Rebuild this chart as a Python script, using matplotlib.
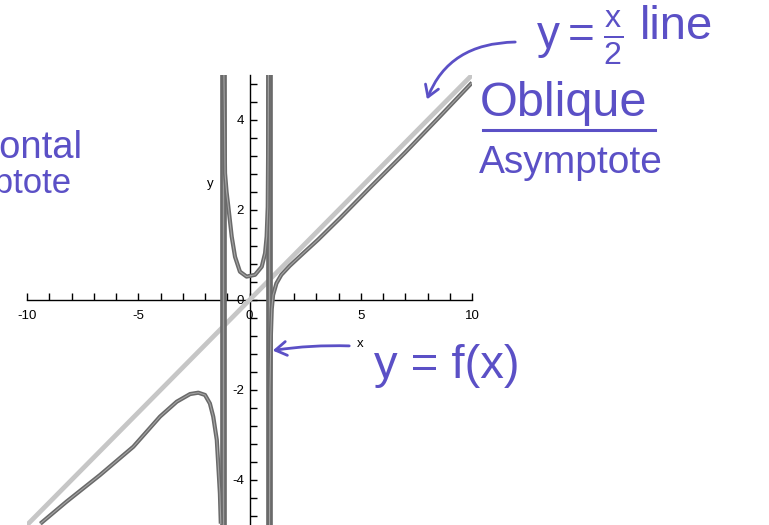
import matplotlib.pyplot as plt
from matplotlib.ticker import MultipleLocator

plt.rcParams['font.family'] = ['Liberation Sans', 'DejaVu Sans']
plt.rcParams['mathtext.fontset'] = 'custom'
plt.rcParams['mathtext.rm'] = 'Liberation Sans'

# oblique asymptote y = x/2
line_x = [-10, 10]
line_y = [-5, 5]

# y = f(x), three branches
left_x = [-9.40, -8.22, -6.72, -5.22, -4.02, -3.27, -2.67, -2.30, -2.00, -1.78, -1.63, -1.47, -1.40, -1.33, -1.29]
left_y = [-4.97, -4.48, -3.89, -3.26, -2.59, -2.26, -2.09, -2.06, -2.11, -2.30, -2.59, -3.11, -3.70, -4.30, -4.97]

mid_x = [-1.15, -1.12, -1.10, -1.03, -0.95, -0.80, -0.65, -0.43, -0.13, 0.25, 0.55, 0.70, 0.77, 0.82, 0.84, 0.85]
mid_y = [5.0, 3.8, 2.82, 2.40, 2.07, 1.41, 0.96, 0.63, 0.52, 0.56, 0.74, 1.04, 1.41, 2.07, 3.5, 5.0]

right_x = [0.90, 0.92, 0.96, 1.00, 1.06, 1.21, 1.43, 1.81, 2.33, 3.08, 4.07, 5.50, 7.00, 8.50, 10.0]
right_y = [-5.0, -2.0, -0.8, -0.2, 0.11, 0.37, 0.56, 0.76, 1.00, 1.34, 1.82, 2.54, 3.28, 4.05, 4.83]

# vertical asymptotes (plotted as the jump segments)
asym_x = [-1.18, 0.86]

ink = '#5b50c6'

fig = plt.figure(figsize=(7.69, 5.25), dpi=100)
ax = fig.add_axes([27 / 769, 0.0, 445 / 769, 450 / 525])
ax.set_xlim(-10, 10)
ax.set_ylim(-5, 5)

ax.plot(line_x, line_y, color='#c6c6c6', lw=3.4, solid_capstyle='butt', zorder=2)

for xa in asym_x:
    ax.plot([xa, xa], [-5.3, 5.3], color='#6a6a6a', lw=4.8, zorder=3)
    ax.plot([xa, xa], [-5.3, 5.3], color='#9c9c9c', lw=1.0, zorder=3)

for bx, by in [(left_x, left_y), (mid_x, mid_y), (right_x, right_y)]:
    ax.plot(bx, by, color='#6a6a6a', lw=3.0, solid_capstyle='butt', zorder=4)
    ax.plot(bx, by, color='#a4a4a4', lw=0.8, zorder=4)

# Maple-style axes through the origin
for s in ['top', 'right']:
    ax.spines[s].set_visible(False)
ax.spines['left'].set_position(('data', 0))
ax.spines['bottom'].set_position(('data', 0))
for s in ['left', 'bottom']:
    ax.spines[s].set_linewidth(1.0)
    ax.spines[s].set_zorder(1)

ax.xaxis.set_major_locator(MultipleLocator(5))
ax.xaxis.set_minor_locator(MultipleLocator(1))
ax.yaxis.set_major_locator(MultipleLocator(2))
ax.yaxis.set_minor_locator(MultipleLocator(0.4))
ax.tick_params(axis='both', which='both', direction='in', length=5, width=1.0,
               labelsize=9.5, colors='black')
ax.tick_params(axis='x', which='major', pad=7)
ax.tick_params(axis='y', which='major', pad=4)
ax.set_xticks([-10, -5, 0, 5, 10])
ax.set_xticklabels(['-10', '-5', '0', '5', '10'])
ax.set_yticks([-4, -2, 0, 2, 4])
ax.set_yticklabels(['-4', '-2', '0', '2', '4'])

ax.set_xlabel('x', fontsize=9.5)
ax.xaxis.set_label_coords(333 / 445, 0.415)
ax.set_ylabel('y', fontsize=9.5, rotation=0)
ax.yaxis.set_label_coords(183 / 445, 0.745)

# handwritten notes, placed in figure pixels
H = 525
fig.text(536, H - 38, r'$\mathrm{y}=\frac{\mathrm{x}}{\mathrm{2}}$', color=ink,
         fontsize=33, va='center', ha='left', transform=None)
fig.text(640, H - 27, 'line', color=ink, fontsize=34, va='center', ha='left',
         transform=None)
fig.text(480, H - 104, 'Oblique', color=ink, fontsize=35, va='center', ha='left',
         transform=None)
fig.lines.append(plt.Line2D([483, 655], [H - 130, H - 130], color=ink, lw=2.2,
                            transform=None))
fig.text(479, H - 163, 'Asymptote', color=ink, fontsize=28, va='center', ha='left',
         transform=None)
fig.text(83, H - 148, 'Horizontal', color=ink, fontsize=27.5, va='center', ha='right',
         transform=None)
fig.text(72, H - 184, 'Asymptote', color=ink, fontsize=25, va='center', ha='right',
         transform=None)
fig.text(374, H - 366, 'y = f(x)', color=ink, fontsize=34, va='center', ha='left',
         transform=None)

ax.annotate('', xy=(426, H - 102), xytext=(518, H - 42),
            xycoords='figure pixels', textcoords='figure pixels',
            arrowprops=dict(arrowstyle='->,head_length=0.8,head_width=0.5', color=ink,
                            lw=2.0, connectionstyle='angle3,angleA=0,angleB=70'),
            annotation_clip=False)
ax.annotate('', xy=(270, H - 351), xytext=(352, H - 346),
            xycoords='figure pixels', textcoords='figure pixels',
            arrowprops=dict(arrowstyle='->,head_length=0.8,head_width=0.5', color=ink,
                            lw=2.0, connectionstyle='arc3,rad=0.05'),
            annotation_clip=False)

fig.savefig('out.png', dpi=100)
